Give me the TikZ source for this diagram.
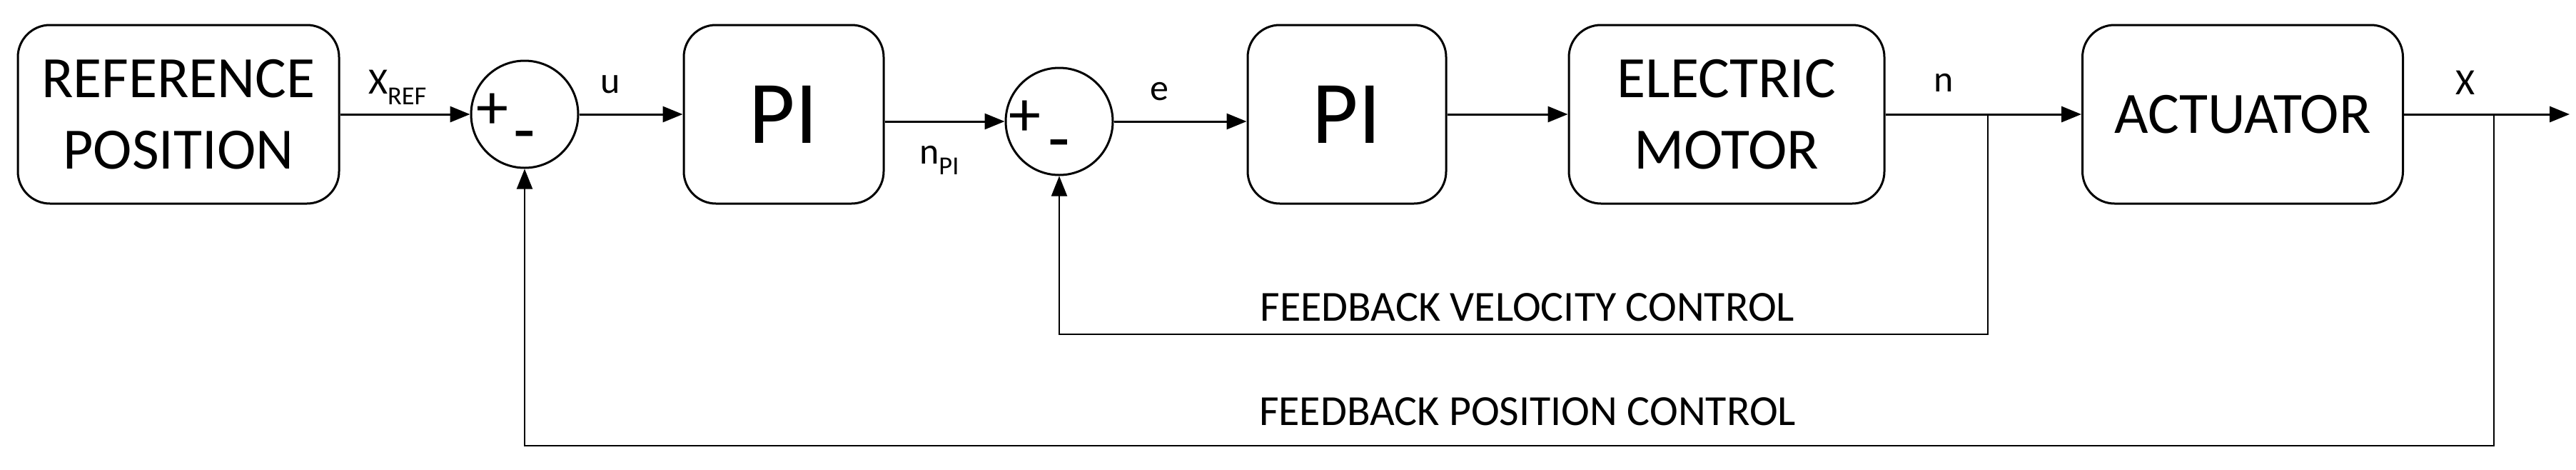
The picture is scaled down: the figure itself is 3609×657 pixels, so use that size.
\documentclass[tikz,border=0pt]{standalone}
\usepackage{fontspec}
\setmainfont{Carlito}
\usetikzlibrary{arrows.meta,positioning,calc}
\tikzset{
  block/.style={rectangle, draw=black, rounded corners=45pt, line width=3pt, align=center, inner sep=0pt},
  sum/.style={circle, draw=black, line width=3pt, minimum size=150pt, inner sep=0pt},
  lbl/.style={font=\fontsize{52}{56}\selectfont},
  sig/.style={-{Triangle[length=28pt,width=22pt]}, line width=3pt},
  fb/.style={line width=2pt},
}
\begin{document}
\begin{tikzpicture}[x=1pt,y=-1pt]
    \useasboundingbox (0,0) rectangle (3609,657);
    \node[block, minimum width=450pt, minimum height=250pt, font=\fontsize{82}{100}\selectfont] (ref) at (250,160) {REFERENCE\\POSITION};
    \node[sum] (s1) at (735,160) {};
    \node[block, minimum width=280pt, minimum height=250pt, font=\fontsize{125}{130}\selectfont] (pi1) at (1098,160) {PI};
    \node[sum] (s2) at (1484,170) {};
    \node[block, minimum width=278pt, minimum height=250pt, font=\fontsize{125}{130}\selectfont] (pi2) at (1887,160) {PI};
    \node[block, minimum width=442pt, minimum height=250pt, font=\fontsize{82}{100}\selectfont] (motor) at (2419,160) {ELECTRIC\\MOTOR};
    \node[block, minimum width=449pt, minimum height=250pt, font=\fontsize{82}{100}\selectfont] (act) at (3142,160) {ACTUATOR};
    \coordinate (nb) at (2785,160);
    \coordinate (xb) at (3494,160);
    \coordinate (out) at (3600,160);

    % signs
    \node[font=\fontsize{90}{90}\selectfont] (p1) at (690,156) {+};
    \node[font=\fontsize{100}{100}\selectfont] (m1) at (735,200) {-};
    \node[font=\fontsize{90}{90}\selectfont] (p2) at (1436,166) {+};
    \node[font=\fontsize{100}{100}\selectfont] (m2) at (1484,212) {-};

    % forward path
    \draw[sig] (ref) -- (s1);
    \draw[sig] (s1) -- (pi1);
    \draw[sig] (pi1.east |- s2) -- (s2);
    \draw[sig] (s2) -- (pi2.west |- s2);
    \draw[sig] (pi2) -- (motor);
    \draw[sig] (motor) -- (act);
    \draw[sig] (act) -- (out);

    % feedback loops
    \draw[fb, -{Triangle[length=28pt,width=22pt]}] (nb) -- (nb |- 0,468) -| (s2.south);
    \draw[fb, -{Triangle[length=28pt,width=22pt]}] (xb) -- (xb |- 0,624) -| (s1.south);

    % labels
    \node[lbl] (lxref) at (557,122) {X\textsubscript{REF}};
    \node[lbl] (lu) at (855,118) {u};
    \node[lbl] (lnpi) at (1316,224) {n\textsubscript{PI}};
    \node[lbl] (le) at (1624,128) {e};
    \node[lbl] (ln) at (2723,116) {n};
    \node[lbl] (lx) at (3454,116) {X};
    \node[lbl, font=\fontsize{60}{64}\selectfont] (lvel) at (2140,430) {FEEDBACK VELOCITY CONTROL};
    \node[lbl, font=\fontsize{60}{64}\selectfont] (lpos) at (2140,576) {FEEDBACK POSITION CONTROL};
\end{tikzpicture}
\end{document}
